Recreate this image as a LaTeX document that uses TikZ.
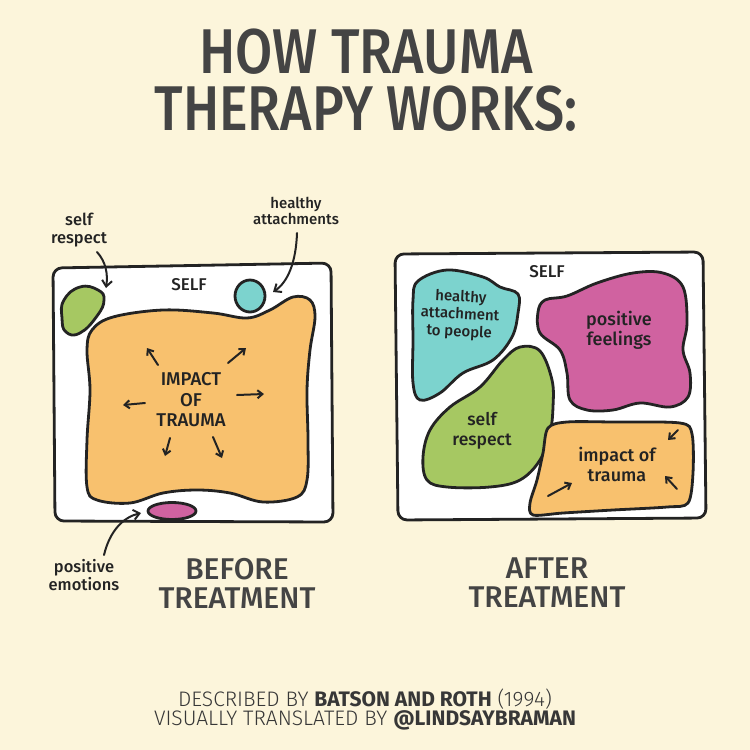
\documentclass[tikz,border=0pt]{standalone}
\usepackage{fontspec}
\setmainfont{Fira Sans}
\newfontfamily\firalight{Fira Sans Light}
\newfontfamily\firamed{Fira Sans Medium}
\usetikzlibrary{arrows.meta}
\definecolor{bgc}{RGB}{252,245,219}
\definecolor{orangec}{RGB}{248,193,110}
\definecolor{greenc}{RGB}{166,200,98}
\definecolor{tealc}{RGB}{124,211,206}
\definecolor{magc}{RGB}{208,98,160}
\definecolor{ink}{RGB}{35,35,35}
\definecolor{titlec}{RGB}{68,68,68}
\definecolor{footc}{RGB}{55,55,55}
\tikzset{
  frame/.style={draw=ink,fill=white,line width=2.8pt,rounded corners=9pt,line join=round},
  blob/.style={draw=ink,line width=2.8pt,line join=round},
  hand/.style={text=ink,font=\firamed\fontsize{18.5}{20.5}\selectfont,align=center,inner sep=0pt},
  small/.style={text=ink,font=\firamed\fontsize{16.5}{18}\selectfont,align=center,inner sep=0pt},
  selflabel/.style={text=ink,font=\firamed\fontsize{17}{18}\selectfont,inner sep=0pt},
  captext/.style={text=titlec,font=\firamed\fontsize{30}{29}\selectfont,align=center,inner sep=0pt},
  arr/.style={draw=ink,line width=2pt,line cap=round,-{Straight Barb[length=5pt,width=8pt,line width=2pt]}},
  pointer/.style={draw=ink,line width=2pt,line cap=round,-{Straight Barb[length=6pt,width=10pt,line width=2pt]}}
}
\begin{document}
\begin{tikzpicture}[x=1pt,y=-1pt]
\fill[bgc] (0,0) rectangle (750,750);
\useasboundingbox (0,0) rectangle (750,750);

% title
\node[text=titlec,font=\firamed\fontsize{55}{57}\selectfont,align=center,inner sep=0pt] (title) at (366,80) {\scalebox{0.98}[1.15]{HOW TRAUMA}\\\scalebox{0.98}[1.15]{THERAPY WORKS:}};

% ---------- BEFORE ----------
\draw[frame] (53,268) -- (331,263) -- (333,522) -- (55,521) -- cycle;
\node[selflabel] (selfA) at (189,285) {SELF};
\draw[blob,fill=greenc] plot[smooth cycle,tension=0.8] coordinates {(64,300) (80,287) (98,290) (104,300) (97,316) (80,333) (66,332) (62,318)};
\draw[blob,fill=tealc] (250,296) ellipse [x radius=15, y radius=16];
\draw[blob,fill=orangec] plot[smooth cycle,tension=0.6] coordinates {(92,330) (113,317) (163,310) (213,313) (247,318) (270,310) (293,297) (310,300) (315,317) (310,350) (307,390) (308,440) (307,480) (297,497) (263,502) (230,493) (197,490) (163,493) (130,503) (97,500) (87,487) (87,440) (90,390) (87,350)};
\draw[blob,fill=magc] (172,511) ellipse [x radius=24, y radius=8.5];
\coordinate (greenA) at (106,288);
\coordinate (tealA) at (273,292);
\coordinate (magA) at (141,513);

\node[hand] (impact) at (191,400) {IMPACT\\OF\\TRAUMA};
\draw[arr] (158,365) -- (147,348);
\draw[arr] (228,363) -- (246,348);
\draw[arr] (145,403) -- (123,405);
\draw[arr] (237,395) -- (264,394);
\draw[arr] (170,438) -- (165,456);
\draw[arr] (213,437) -- (222,458);

\node[small] (lselfresp) at (79,230) {self\\respect};
\node[small,font=\firamed\fontsize{15}{16}\selectfont] (lhealthy) at (296,211) {healthy\\attachments};
\node[small] (lposemo) at (84,575) {positive\\emotions};
\draw[pointer] (97,252) .. controls (106,262) and (108,274) .. (greenA);
\draw[pointer] (297,233) .. controls (296,262) and (288,282) .. (tealA);
\draw[pointer] (104,555) .. controls (110,530) and (124,517) .. (magA);

\node[captext] (before) at (237,583) {BEFORE\\TREATMENT};

% ---------- AFTER ----------
\draw[frame] (395,254) -- (703,252) -- (706,518) -- (398,520) -- cycle;
\node[selflabel] (selfB) at (547,272) {SELF};
\draw[blob,fill=tealc] plot[smooth cycle,tension=0.6] coordinates {(418,281) (447,270) (483,277) (500,287) (518,294) (518,313) (512,337) (493,360) (463,373) (440,393) (420,400) (413,383) (413,340) (413,300)};
\draw[blob,fill=magc] plot[smooth cycle,tension=0.6] coordinates {(538,312) (545,300) (567,296) (597,283) (633,273) (663,273) (683,287) (687,323) (683,350) (690,373) (688,397) (670,407) (640,403) (613,410) (587,410) (570,400) (567,373) (560,350) (540,333)};
\draw[blob,fill=greenc] plot[smooth cycle,tension=0.6] coordinates {(520,347) (540,351) (552,380) (553,407) (550,433) (540,460) (520,480) (490,487) (447,487) (427,480) (423,457) (430,430) (450,407) (480,387) (503,360)};
\draw[blob,fill=orangec] plot[smooth cycle,tension=0.5] coordinates {(548,428) (567,422) (613,422) (680,423) (692,434) (693,473) (688,503) (667,507) (613,510) (563,513) (533,515) (530,503) (537,480) (543,453)};

\node[small,rotate=-3,font=\firamed\fontsize{15}{17.5}\selectfont] (thealthy) at (460,315) {healthy\\attachment\\to people};
\node[small,font=\firamed\fontsize{18}{20}\selectfont] (tposfeel) at (619,330) {positive\\feelings};
\node[small,font=\firamed\fontsize{17.5}{20}\selectfont] (tselfresp) at (482,431) {self\\respect};
\node[small,font=\firamed\fontsize{18}{20}\selectfont] (timpact) at (617,464) {impact of\\trauma};
\draw[arr] (678,430) -- (668,440);
\draw[arr] (677,489) -- (665,476);
\draw[arr] (548,496) -- (572,483);

\node[captext] (after) at (547,583) {AFTER\\TREATMENT};

% footer
\node[text=footc,font=\fontsize{21}{19}\selectfont,align=center,inner sep=0pt] (foot) at (365,710) {{\firalight DESCRIBED BY }\textbf{BATSON AND ROTH}{\firalight{} (1994)}\\{\firalight VISUALLY TRANSLATED BY }\textbf{@LINDSAYBRAMAN}};
\end{tikzpicture}
\end{document}
